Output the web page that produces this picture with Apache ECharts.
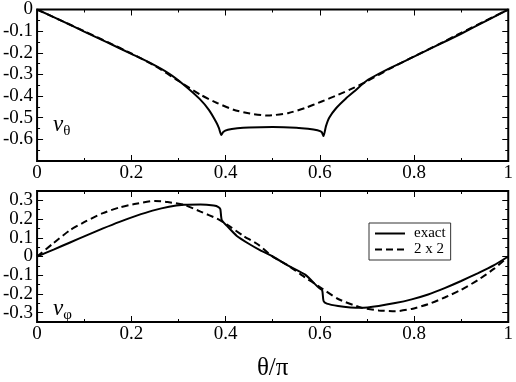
<!DOCTYPE html>
<html>
<head>
<meta charset="utf-8">
<script src="https://cdn.jsdelivr.net/npm/echarts@6/dist/echarts.min.js"></script>
<style>
  html, body { margin: 0; padding: 0; background: #fff; }
  #chart { width: 516px; height: 382px; }
</style>
</head>
<body>
<div id="chart"></div>
<script>
// v_theta panel
const thetaExactX = [0, 0.05, 0.1, 0.15, 0.2, 0.24, 0.28, 0.31, 0.345, 0.365, 0.38, 0.386, 0.391, 0.395, 0.405, 0.425, 0.45, 0.5, 0.55, 0.575, 0.595, 0.604, 0.608, 0.613, 0.62, 0.635, 0.655, 0.675, 0.7, 0.75, 0.8, 0.85, 0.9, 0.95, 1]
const thetaExactV = [0, -0.05, -0.102, -0.153, -0.205, -0.247, -0.296, -0.345, -0.413, -0.465, -0.52, -0.548, -0.58, -0.566, -0.556, -0.549, -0.545, -0.543, -0.546, -0.551, -0.558, -0.566, -0.585, -0.54, -0.5, -0.455, -0.412, -0.375, -0.328, -0.27, -0.218, -0.165, -0.112, -0.056, 0]
const thetaApproxX = [0, 0.05, 0.1, 0.15, 0.2, 0.25, 0.3, 0.347, 0.382, 0.417, 0.452, 0.49, 0.534, 0.569, 0.604, 0.639, 0.674, 0.7, 0.75, 0.8, 0.85, 0.9, 0.95, 1]
const thetaApproxV = [0, -0.05, -0.1, -0.151, -0.203, -0.26, -0.33, -0.394, -0.432, -0.463, -0.481, -0.49, -0.478, -0.455, -0.425, -0.394, -0.36, -0.332, -0.272, -0.217, -0.163, -0.108, -0.054, 0]

// v_phi panel
const phiExactX = [0, 0.035, 0.07, 0.105, 0.14, 0.175, 0.21, 0.245, 0.28, 0.312, 0.347, 0.375, 0.385, 0.389, 0.392, 0.403, 0.424, 0.452, 0.473, 0.5, 0.534, 0.569, 0.597, 0.605, 0.608, 0.615, 0.639, 0.665, 0.688, 0.725, 0.76, 0.795, 0.83, 0.865, 0.9, 0.935, 0.97, 1]
const phiExactV = [0, 0.037, 0.075, 0.113, 0.15, 0.185, 0.217, 0.245, 0.266, 0.276, 0.278, 0.272, 0.264, 0.252, 0.194, 0.164, 0.11, 0.064, 0.034, 0, -0.05, -0.097, -0.165, -0.18, -0.238, -0.252, -0.265, -0.272, -0.274, -0.264, -0.249, -0.229, -0.203, -0.169, -0.131, -0.09, -0.046, 0]
const phiApproxX = [0, 0.035, 0.07, 0.105, 0.14, 0.175, 0.21, 0.25, 0.277, 0.312, 0.347, 0.382, 0.403, 0.438, 0.469, 0.5, 0.534, 0.569, 0.597, 0.639, 0.688, 0.725, 0.76, 0.795, 0.83, 0.865, 0.9, 0.935, 0.97, 1]
const phiApproxV = [0, 0.072, 0.141, 0.19, 0.232, 0.262, 0.282, 0.297, 0.291, 0.276, 0.24, 0.202, 0.171, 0.11, 0.064, 0, -0.05, -0.112, -0.158, -0.227, -0.273, -0.288, -0.293, -0.28, -0.255, -0.219, -0.178, -0.127, -0.065, 0]

const phiTicks = [-0.3, -0.2, -0.1, 0, 0.1, 0.2, 0.3]

const zip = (xs, ys) => xs.map((x, i) => [x, ys[i]])

const serif = 'Liberation Serif'
const tickBase = { show: true, inside: true, length: 6, lineStyle: { color: '#000', width: 1 } }
const minorBase = { show: true, splitNumber: 2, length: 3, lineStyle: { color: '#000', width: 1 } }
const noLine = { show: false, onZero: false }

function xAxisFor(gridIndex, top, showLabels, name) {
  return {
    type: 'value', gridIndex, min: 0, max: 1, interval: 0.2,
    position: top ? 'top' : 'bottom',
    axisLine: noLine,
    axisTick: tickBase,
    minorTick: minorBase,
    splitLine: { show: false },
    axisLabel: showLabels
      ? { show: true, color: '#000', fontFamily: serif, fontSize: 19, margin: 3 }
      : { show: false },
    name: name || '',
    nameLocation: 'middle',
    nameGap: 34,
    nameTextStyle: { color: '#000', fontFamily: serif, fontSize: 25 },
  }
}

function yAxisTop(right) {
  return {
    type: 'value', gridIndex: 0, min: -0.7, max: 0, interval: 0.1,
    position: right ? 'right' : 'left',
    axisLine: noLine,
    axisTick: tickBase,
    minorTick: minorBase,
    splitLine: { show: false },
    axisLabel: right ? { show: false } : {
      show: true, color: '#000', fontFamily: serif, fontSize: 19, margin: 4,
      formatter: v => (Math.abs(v + 0.7) < 1e-6 ? '' : String(+v.toFixed(1))),
    },
  }
}

// every 0.05: short ticks, labels only on tenths
function yAxisBottomMinor(right) {
  return {
    type: 'value', gridIndex: 1, min: -0.35, max: 0.35, interval: 0.05,
    position: right ? 'right' : 'left',
    axisLine: noLine,
    axisTick: { show: true, inside: true, length: 3, lineStyle: { color: '#000', width: 1 } },
    splitLine: { show: false },
    axisLabel: right ? { show: false } : {
      show: true, color: '#000', fontFamily: serif, fontSize: 19, margin: 4,
      showMinLabel: true, showMaxLabel: true, hideOverlap: false,
      formatter: v => {
        const k = Math.round(v * 20)
        return k % 2 === 0 ? String(+v.toFixed(1)) : ''
      },
    },
  }
}

function yAxisBottomMajor(right) {
  return {
    type: 'value', gridIndex: 1, min: -0.35, max: 0.35,
    position: right ? 'right' : 'left',
    axisLine: noLine,
    axisTick: Object.assign({}, tickBase, { customValues: phiTicks }),
    splitLine: { show: false },
    axisLabel: { show: false },
  }
}

const lineExact = { color: '#000', width: 2, type: 'solid' }
const lineApprox = { color: '#000', width: 2, type: [7, 4] }

function mkSeries(name, data, xi, yi, style) {
  return {
    name, type: 'line', data, xAxisIndex: xi, yAxisIndex: yi,
    showSymbol: false, symbol: 'none', smooth: 0.2,
    lineStyle: style, itemStyle: { color: '#000' },
    animation: false,
  }
}

const chart = echarts.init(document.getElementById('chart'), null, { renderer: 'canvas' })
chart.setOption({
  animation: false,
  grid: [
    { left: 35, top: 8, width: 476, height: 153, show: true, borderColor: '#000', borderWidth: 2, backgroundColor: 'transparent' },
    { left: 35, top: 191, width: 476, height: 152, show: true, borderColor: '#000', borderWidth: 2, backgroundColor: 'transparent' },
  ],
  xAxis: [
    xAxisFor(0, false, true),
    xAxisFor(0, true, false),
    xAxisFor(1, false, true, 'θ/π'),
    xAxisFor(1, true, false),
  ],
  yAxis: [
    yAxisTop(false),
    yAxisTop(true),
    yAxisBottomMinor(false),
    yAxisBottomMinor(true),
    yAxisBottomMajor(false),
    yAxisBottomMajor(true),
  ],
  legend: {
    data: ['exact', '2 x 2'],
    left: 369, top: 223,
    orient: 'vertical',
    borderColor: '#333', borderWidth: 1,
    padding: [3, 5, 3, 5],
    itemGap: 1, itemWidth: 30, itemHeight: 14,
    itemStyle: { opacity: 0 },
    textStyle: { color: '#000', fontFamily: serif, fontSize: 15, padding: [0, 0, 0, 4] },
  },
  graphic: [
    {
      type: 'text', left: 53, top: 113,
      style: {
        text: '{v|v}{s|θ}',
        rich: {
          v: { fontFamily: serif, fontStyle: 'italic', fontSize: 23, fill: '#000' },
          s: { fontFamily: serif, fontSize: 15, fill: '#000', padding: [14, 0, 0, 0] },
        },
      },
    },
    {
      type: 'text', left: 53, top: 297,
      style: {
        text: '{v|v}{s|φ}',
        rich: {
          v: { fontFamily: serif, fontStyle: 'italic', fontSize: 23, fill: '#000' },
          s: { fontFamily: serif, fontSize: 15, fill: '#000', padding: [14, 0, 0, 0] },
        },
      },
    },
  ],
  series: [
    mkSeries('exact', zip(thetaExactX, thetaExactV), 0, 0, lineExact),
    mkSeries('2 x 2', zip(thetaApproxX, thetaApproxV), 0, 0, lineApprox),
    mkSeries('exact', zip(phiExactX, phiExactV), 2, 2, lineExact),
    mkSeries('2 x 2', zip(phiApproxX, phiApproxV), 2, 2, lineApprox),
  ],
})
</script>
</body>
</html>
